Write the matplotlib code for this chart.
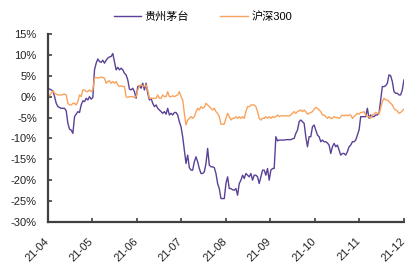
import numpy as np
import matplotlib
matplotlib.use("Agg")
import matplotlib.pyplot as plt
from matplotlib.ticker import FuncFormatter
import matplotlib.transforms as mtransforms

plt.rcParams['font.family'] = ['Liberation Sans', 'Noto Sans CJK SC', 'DejaVu Sans']
plt.rcParams['axes.unicode_minus'] = False

# cumulative return (%), sampled evenly from 2021-04 to 2021-12
moutai = [
    2.0, 1.8, 1.6, 1.4, 0.0, -1.6, -2.4, -2.6, -2.8, -2.8, -2.8, -3.4, -6.4, -7.8, -8.0, -8.8,
    -4.8, -4.2, -3.6, -3.8, -2.0, -1.0, -1.2, -0.4, -0.8, 0.0, -0.6, -0.2, 6.4, 8.0, 9.0, 8.4,
    8.2, 8.7, 8.0, 8.7, 9.2, 9.5, 9.6, 10.3, 8.4, 6.4, 7.0, 6.4, 6.8, 6.4, 5.6, 5.2, 4.0, 1.8,
    1.6, 2.0, 1.2, -0.4, 2.4, 2.6, 2.0, 3.2, 1.6, 3.2, 0.8, -0.8, -0.4, -1.6, -2.4, -2.0, -2.8,
    -3.2, -3.6, -4.0, -3.6, -4.2, -2.8, -4.4, -4.0, -4.4, -3.8, -3.8, -4.4, -6.0, -7.2, -9.6,
    -12.8, -16.0, -14.0, -17.0, -17.6, -17.6, -15.6, -14.4, -15.6, -17.2, -18.4, -18.4, -18.0,
    -16.0, -12.4, -16.4, -16.8, -16.8, -17.0, -18.4, -20.8, -22.0, -24.4, -24.4, -24.4, -20.8,
    -19.2,
    -22.0, -22.0, -22.3, -22.4, -22.0, -23.6, -20.8, -20.0, -18.8, -19.6, -18.4, -18.8, -19.2,
    -18.4, -20.0, -18.8, -18.8, -19.2, -20.8, -19.2, -17.6, -17.6, -18.8, -17.2, -20.0, -17.6,
    -17.2, -17.2, -9.6, -10.6, -10.4, -10.4, -10.4, -10.4, -10.3, -10.3, -10.3, -10.3, -10.1,
    -10.0, -8.8, -8.0, -6.0, -5.6, -6.0, -6.4, -9.6, -12.0, -9.6, -9.6, -7.2, -6.8, -8.0, -9.2,
    -9.6, -10.8, -10.4, -10.8, -10.8, -11.1, -11.6, -13.6, -12.0, -11.2, -12.0, -11.6, -12.8,
    -14.0, -13.6, -13.6, -14.0, -13.2, -12.0, -11.6, -10.8, -10.8, -10.4, -9.2, -8.0, -4.8,
    -4.8, -4.8, -4.8, -2.8, -5.2, -4.4, -4.8, -4.8, -4.4, -4.4, -4.0, -0.8, 2.4, 2.4, 2.6, 3.2,
    5.2, 5.0, 3.6, 1.2, 0.8, 0.8, 0.4, 0.4, 1.6, 4.0,
]
hs300 = [
    0.4, 0.2, 0.8, 1.4, 0.8, 0.6, 0.4, 0.4, 0.4, 0.5, 0.6, 0.4, -1.6, -2.0, -2.0, -1.6, -1.6,
    -2.0, -1.2, 0.4, 0.0, 1.6, 1.6, 1.2, 1.2, 1.6, 1.2, 1.6, 4.4, 4.6, 4.4, 4.6, 4.6, 4.6, 4.4,
    3.2, 3.6, 3.8, 3.2, 3.6, 3.2, 3.6, 2.8, 2.4, 2.6, 2.4, 2.4, 0.0, -0.2, 0.0, 0.0, 0.0, -0.2,
    0.0, 1.6, 2.6, 2.8, 2.6, 2.4, 2.8, 1.6, -0.4, -0.4, -0.4, -0.4, -0.4, 0.4, -0.4, -0.4, 0.4,
    0.0, 0.0, 1.2, 0.0, 0.0, 0.2, 0.0, 0.2, 0.4, 1.2, 0.0, -0.8, -4.0, -6.8, -5.6, -5.2, -4.8,
    -5.2, -4.8, -3.6, -2.8, -3.2, -2.4, -2.8, -2.6, -1.6, -2.0, -2.4, -2.8, -3.2, -2.8, -3.6,
    -4.0, -4.8, -6.6, -6.6, -6.6, -5.2, -4.0,
    -4.8, -5.6, -5.2, -5.2, -4.8, -5.2, -4.8, -5.2, -4.8, -5.2, -3.6, -2.4, -2.4, -2.0, -2.0,
    -2.0, -2.4, -3.6, -5.2, -5.6, -5.2, -5.2, -4.8, -5.2, -4.8, -5.2, -4.8, -5.0, -4.8, -4.4,
    -4.8, -4.6, -4.6, -4.6, -4.6, -4.6, -4.6, -4.4, -4.0, -3.6, -4.0, -3.6, -3.4, -3.2, -3.6,
    -3.2, -3.6, -4.2, -4.0, -3.8, -3.6, -3.0, -2.6, -2.8, -3.2, -3.6, -4.4, -4.4, -4.8, -5.2,
    -4.8, -5.2, -5.2, -4.8, -5.0, -5.0, -5.2, -4.8, -4.4, -4.6, -4.4, -4.6, -4.4, -4.4, -5.2,
    -4.8, -4.4, -4.0, -4.2, -3.8, -3.8, -3.6, -4.4, -4.8, -4.8, -5.2, -4.4, -4.2, -3.8, -4.0,
    -4.2, -2.8, -1.2, -0.4, -0.8, -0.8, -1.2, -1.6, -2.0, -2.8, -3.2, -3.4, -4.0, -3.8, -3.4,
    -3.0,
]
month_labels = ['21-04', '21-05', '21-06', '21-07', '21-08', '21-09', '21-10', '21-11', '21-12']
names = ['贵州茅台', '沪深300']
colors = ['#5a4196', '#f9a35e']

x = np.linspace(0, len(month_labels) - 1, len(moutai))

fig = plt.figure(figsize=(4.06, 2.63), dpi=100)
ax = fig.add_axes([0.118, 0.156, 0.877, 0.715])

ax.plot(x, moutai, color=colors[0], lw=1.0, label=names[0])
ax.plot(x, hs300, color=colors[1], lw=1.0, label=names[1])

ax.set_xlim(0, len(month_labels) - 1)
ax.set_ylim(-30, 15)
ax.set_yticks(np.arange(-30, 16, 5))
ax.yaxis.set_major_formatter(FuncFormatter(lambda v, p: f'{v:.0f}%'))
ax.set_xticks(range(len(month_labels)))
ax.set_xticklabels(month_labels, rotation=45, ha='right')

for s in ['top', 'right']:
    ax.spines[s].set_visible(False)
for s in ['left', 'bottom']:
    ax.spines[s].set_color('#404040')
    ax.spines[s].set_linewidth(1.6)
ax.tick_params(axis='both', direction='in', length=3, width=1.2, color='#404040',
               labelsize=8, labelcolor='#222222')
ax.tick_params(axis='y', pad=8)
ax.tick_params(axis='x', pad=10)
shift = mtransforms.ScaledTranslation(3 / 100, 0, fig.dpi_scale_trans)
for lab in ax.get_xticklabels():
    lab.set_transform(lab.get_transform() + shift)

fig.legend(loc='center', bbox_to_anchor=(0.5, 1 - 17 / 263), ncol=2, frameon=False,
           fontsize=8, handlelength=2.5, handletextpad=0.3, columnspacing=2.8)

fig.savefig('out.png', dpi=100)
